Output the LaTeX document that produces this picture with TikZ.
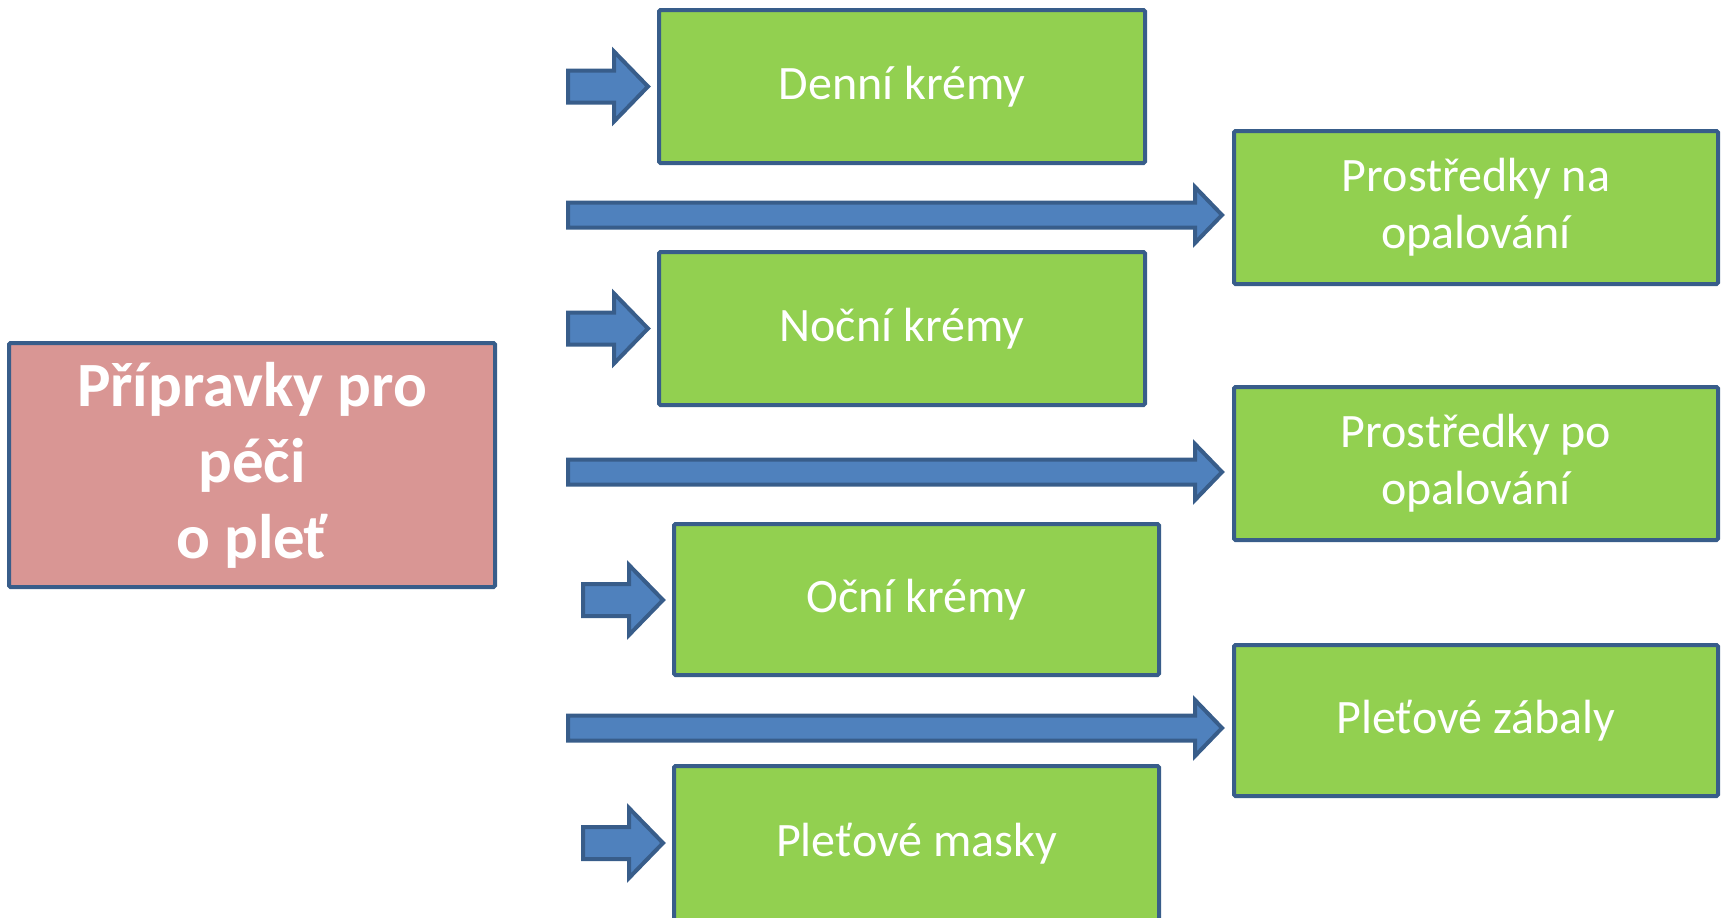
\documentclass[tikz,border=0pt]{standalone}
\usepackage{fontspec}
\setmainfont{Carlito}
\definecolor{boxgreen}{HTML}{92D050}
\definecolor{boxpink}{HTML}{D99694}
\definecolor{arrowblue}{HTML}{4F81BD}
\definecolor{edgeblue}{HTML}{385D8A}
\tikzset{
  greenbox/.style={draw=edgeblue, line width=4pt, fill=boxgreen, rounded corners=1.5pt,
    minimum width=486pt, minimum height=152pt, inner sep=0pt, outer sep=0pt, text=white,
    align=center, font=\fontsize{48}{57}\selectfont},
  pinkbox/.style={draw=edgeblue, line width=4pt, fill=boxpink, rounded corners=1.5pt,
    minimum width=486pt, minimum height=244pt, inner sep=0pt, outer sep=0pt, text=white,
    align=center, font=\fontsize{63}{76}\selectfont\bfseries},
  blockarrow/.style={draw=edgeblue, line width=4pt, fill=arrowblue, line join=miter}
}
\begin{document}
\begin{tikzpicture}[x=1pt,y=-1pt]
\useasboundingbox (0,0) rectangle (1725,918);
% main box
\node[pinkbox, anchor=north west] (main) at (9,343) {Přípravky pro\\péči\\o pleť};
% left column boxes
\node[greenbox, anchor=north west, minimum width=486pt, minimum height=153pt] (denni) at (659,10) {Denní krémy};
\node[greenbox, anchor=north west, minimum width=486pt, minimum height=153pt] (nocni) at (659,252) {Noční krémy};
\node[greenbox, anchor=north west, minimum width=485pt, minimum height=151pt] (ocni) at (674,524) {Oční krémy};
\node[greenbox, anchor=north west, minimum width=485pt, minimum height=156pt] (masky) at (674,766) {Pleťové masky};
% right column boxes
\node[greenbox, anchor=north west, minimum width=484pt, minimum height=153pt] (na) at (1234,131) {Prostředky na\\opalování};
\node[greenbox, anchor=north west, minimum width=484pt, minimum height=153pt] (po) at (1234,387) {Prostředky po\\opalování};
\node[greenbox, anchor=north west, minimum width=484pt, minimum height=151pt] (zabaly) at (1234,645) {Pleťové zábaly};
% block arrows
\newcommand\shortarrow[4]{% #1 tail x, #2 head base x, #3 tip x, #4 centre y
  \draw[blockarrow] (#1,#4-16) -- (#2,#4-16) -- (#2,#4-35) -- (#3,#4) -- (#2,#4+35) -- (#2,#4+16) -- (#1,#4+16) -- cycle;}
\newcommand\longarrow[4]{%
  \draw[blockarrow] (#1,#4-12.5) -- (#2,#4-12.5) -- (#2,#4-28) -- (#3,#4) -- (#2,#4+28) -- (#2,#4+12.5) -- (#1,#4+12.5) -- cycle;}
\shortarrow{568}{614}{648}{86.5}
\shortarrow{568}{614}{648}{328.5}
\shortarrow{583}{629}{663}{600}
\shortarrow{583}{629}{663}{843}
\longarrow{568}{1195}{1222}{215}
\longarrow{568}{1195}{1222}{472}
\longarrow{568}{1195}{1222}{728}
\end{tikzpicture}
\end{document}
